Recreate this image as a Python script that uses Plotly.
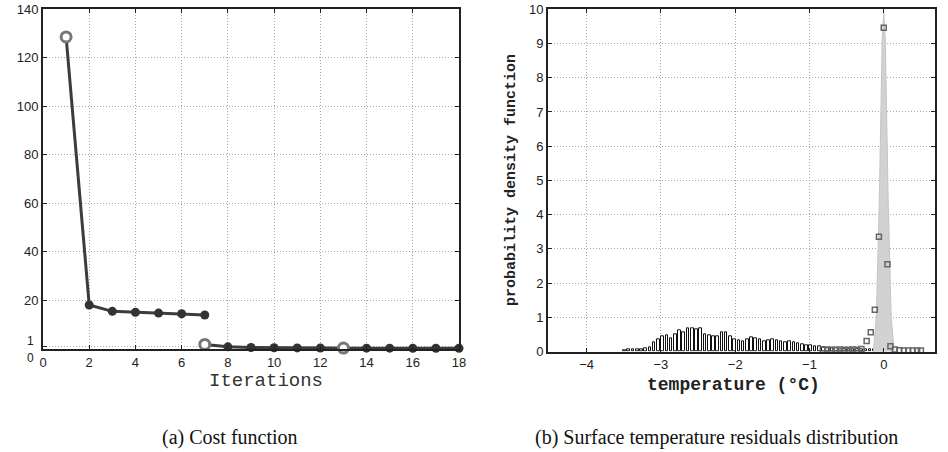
import plotly.graph_objects as go

# ---------------- data: (a) cost function ----------------
iter_a = [1, 2, 3, 4, 5, 6, 7]
cost_a = [128.5, 18.1, 15.5, 15.1, 14.8, 14.5, 14.0]
iter_b = [7, 8, 9, 10, 11, 12, 13, 14, 15, 16, 17, 18]
cost_b = [1.9, 0.9, 0.6, 0.5, 0.45, 0.4, 0.4, 0.35, 0.35, 0.3, 0.3, 0.3]
restart_iter = [1, 7, 13]
restart_cost = [128.5, 1.9, 0.4]

# ---------------- data: (b) residual distribution ----------------
bin_start = -3.49
bin_width = 0.057
hist_vals = [0.03, 0.05, 0.06, 0.05, 0.05, 0.10, 0.13, 0.27, 0.37, 0.45,
             0.47, 0.38, 0.50, 0.61, 0.57, 0.67, 0.67, 0.65, 0.67, 0.49,
             0.47, 0.45, 0.43, 0.55, 0.56, 0.45, 0.36, 0.33, 0.29, 0.37,
             0.42, 0.38, 0.35, 0.31, 0.33, 0.36, 0.33, 0.30, 0.28, 0.30,
             0.27, 0.24, 0.22, 0.19, 0.17, 0.16, 0.14, 0.12, 0.10, 0.09,
             0.08, 0.07, 0.06, 0.06, 0.05, 0.05, 0.05, 0.06, 0.05, 0.07,
             0.06, 0.31, 0.12, 0.03]
hist_x = [round(bin_start + i * bin_width, 4) for i in range(len(hist_vals))]

peak_x = [-0.14, -0.1, -0.06, -0.02, 0.0, 0.02, 0.06, 0.1, 0.14]
peak_y = [0.0, 1.0, 4.4, 9.2, 9.9, 9.2, 4.4, 1.0, 0.0]

sq_x = [-0.82, -0.76, -0.70, -0.65, -0.59, -0.53, -0.47, -0.42, -0.36, -0.30,
        -0.23, -0.175, -0.12, -0.065, 0.0, 0.05, 0.09, 0.15, 0.21, 0.27,
        0.33, 0.39, 0.45, 0.50]
sq_y = [0.05, 0.06, 0.05, 0.05, 0.06, 0.05, 0.05, 0.06, 0.05, 0.07,
        0.31, 0.56, 1.22, 3.35, 9.46, 2.55, 0.15, 0.06, 0.04, 0.03,
        0.03, 0.03, 0.03, 0.03]

left_yticks = [1, 20, 40, 60, 80, 100, 120, 140]
left_yticktext = ["", "20", "40", "60", "80", "100", "120", "140"]
left_xticks = [0, 2, 4, 6, 8, 10, 12, 14, 16, 18]
right_yticks = [0, 1, 2, 3, 4, 5, 6, 7, 8, 9, 10]
right_xticks = [-4, -3, -2, -1, 0]

W, H = 948, 452
fig = go.Figure()

# ---- left panel ----
line_col = "#3c3c3c"
fig.add_trace(go.Scatter(x=iter_a, y=cost_a, mode="lines+markers",
                         line=dict(color=line_col, width=3),
                         marker=dict(color="#333333", size=9),
                         xaxis="x", yaxis="y", showlegend=False))
fig.add_trace(go.Scatter(x=iter_b, y=cost_b, mode="lines+markers",
                         line=dict(color=line_col, width=3),
                         marker=dict(color="#333333", size=9),
                         xaxis="x", yaxis="y", showlegend=False, cliponaxis=False))
fig.add_trace(go.Scatter(x=restart_iter, y=restart_cost, mode="markers",
                         marker=dict(color="white", size=10, line=dict(color="#777777", width=3)),
                         xaxis="x", yaxis="y", showlegend=False, cliponaxis=False))

# ---- right panel ----
fig.add_trace(go.Scatter(x=peak_x, y=peak_y, mode="lines", fill="toself",
                         fillcolor="#d2d2d2", line=dict(color="#c4c4c4", width=1),
                         xaxis="x2", yaxis="y2", showlegend=False))
fig.add_trace(go.Bar(x=hist_x, y=hist_vals, width=bin_width * 0.62,
                     marker=dict(color="white", line=dict(color="#111111", width=1)),
                     xaxis="x2", yaxis="y2", showlegend=False))
fig.add_trace(go.Scatter(x=sq_x, y=sq_y, mode="markers",
                         marker=dict(symbol="square-open", color="#666666", size=5,
                                     line=dict(width=1.5)),
                         xaxis="x2", yaxis="y2", showlegend=False, cliponaxis=False))

tick_font = dict(family="Liberation Sans, Arial", size=13, color="#222")
axis_common = dict(showline=True, linecolor="#222", linewidth=2, mirror="ticks",
                   ticks="inside", ticklen=4, tickcolor="#222", automargin=False,
                   showgrid=True, gridcolor="#a8a8a8", griddash="1px,2px", gridwidth=1,
                   zeroline=False, tickfont=tick_font)

mono = "Liberation Mono, Courier New"
fig.update_layout(
    width=W, height=H, margin=dict(l=0, r=0, t=0, b=0),
    paper_bgcolor="white", plot_bgcolor="white", bargap=0,
    xaxis=dict(domain=[43 / W, 459 / W], range=[0, 18], tickvals=left_xticks,
               anchor="y", **axis_common),
    yaxis=dict(domain=[1 - 349 / H, 1 - 9 / H], range=[0, 140], tickvals=left_yticks,
               ticktext=left_yticktext, anchor="x", **axis_common),
    xaxis2=dict(domain=[548 / W, 935 / W], range=[-4.52, 0.69], tickvals=right_xticks,
                anchor="y2", **axis_common),
    yaxis2=dict(domain=[1 - 351.5 / H, 1 - 9.3 / H], range=[0, 10], tickvals=right_yticks,
                anchor="x2", **axis_common),
)


def px_ann(text, x, y, font, **kw):
    fig.add_annotation(text=text, x=x / W, y=1 - y / H, xref="paper", yref="paper",
                       showarrow=False, font=font, yanchor="middle", **kw)


# small tick labels "1" and "0" on the left axis
small_tick_font = dict(family="Liberation Sans, Arial", size=12, color="#222")
px_ann("1", 36, 341, small_tick_font, xanchor="right")
px_ann("0", 36, 358, small_tick_font, xanchor="right")

# axis titles
px_ann("Iterations", 266, 381, dict(family=mono, size=19, color="#333"), xanchor="center")
px_ann("<b>temperature (°C)</b>", 733, 385, dict(family=mono, size=18, color="#222"),
       xanchor="center")
px_ann("<b>probability density function</b>", 512, 180, dict(family=mono, size=15, color="#222"),
       xanchor="center", textangle=-90)

# captions
cap_font = dict(family="Liberation Serif, Times New Roman", size=20, color="#111")
px_ann("(a) Cost function", 230, 437, cap_font, xanchor="center")
px_ann("(b) Surface temperature residuals distribution", 716, 437, cap_font, xanchor="center")

fig.write_html("out.html", config={"displayModeBar": False},
               post_script="document.body.style.margin='0';")
